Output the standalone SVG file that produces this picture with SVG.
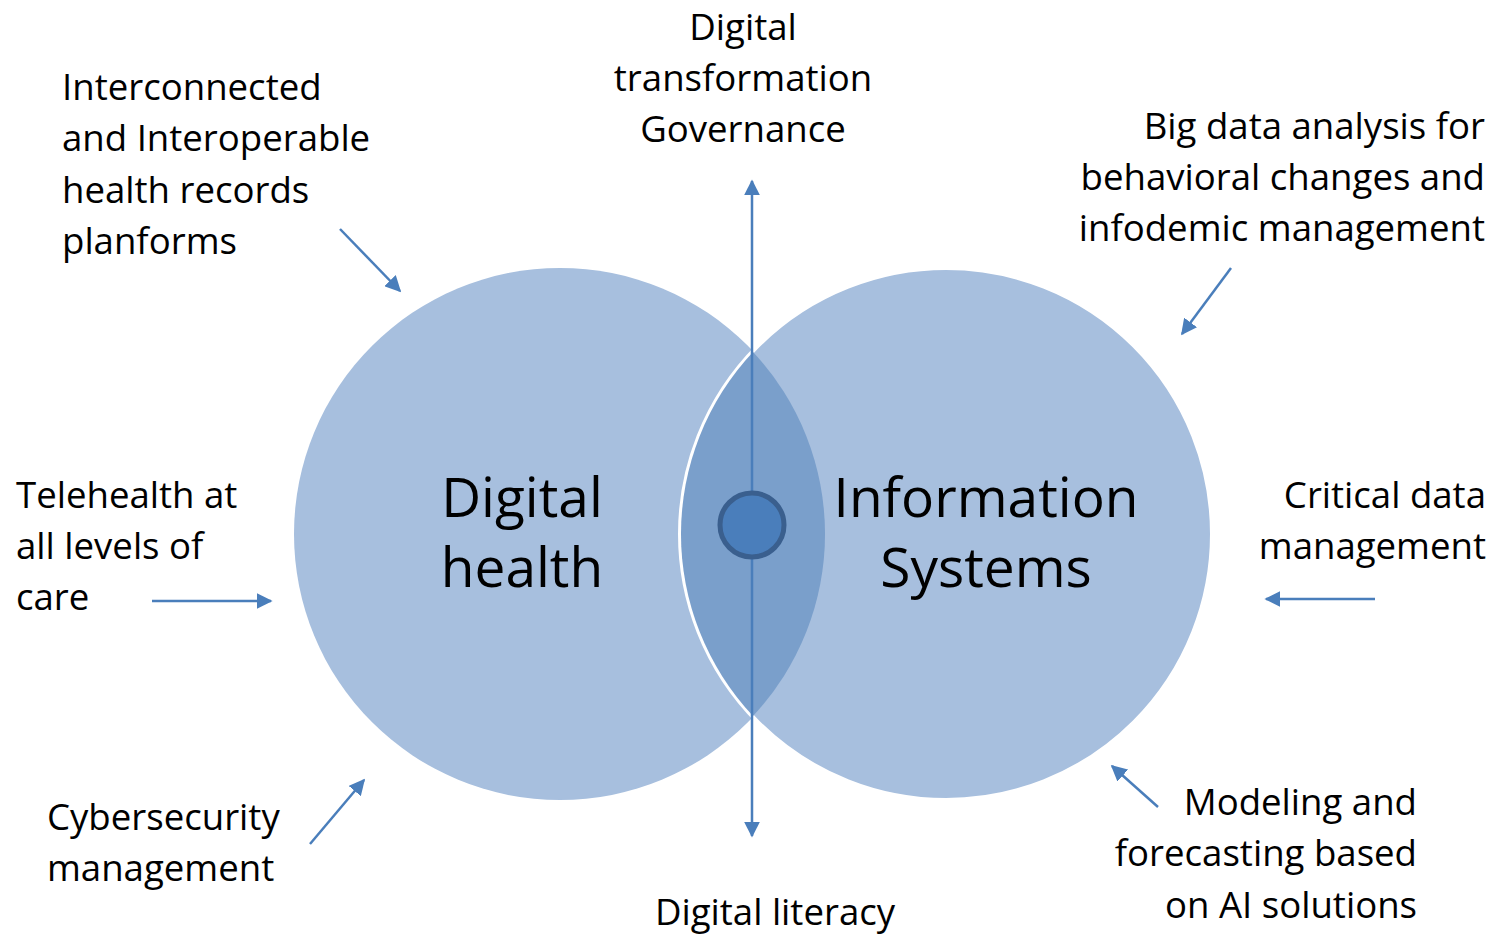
<svg xmlns="http://www.w3.org/2000/svg" width="1494" height="935" viewBox="0 0 1494 935">
<style>
.t{font-family:"Open Sans","Noto Sans",sans-serif;font-size:36.6px;fill:#000}
.big{font-family:"Open Sans","Noto Sans",sans-serif;font-size:55px;fill:#000}
.c{text-anchor:middle}
.r{text-anchor:end}
.arr{stroke:#4A7EBB;stroke-width:2.5;fill:none;marker-end:url(#ah2)}
</style>
<defs>
<marker id="ah2" viewBox="0 0 10 10" refX="9" refY="5" markerWidth="16" markerHeight="16" markerUnits="userSpaceOnUse" orient="auto">
<path d="M0,0 L10,5 L0,10 Z" fill="#4A7EBB"/>
</marker>
</defs>
<rect width="1494" height="935" fill="#fff"/>
<g id="digital-health">
<circle cx="560" cy="534" r="266" fill="#A7BFDE"/>
</g>
<g id="information-systems">
<circle cx="946" cy="534" r="266" fill="#A7BFDE" stroke="#fff" stroke-width="4"/>
</g>
<g id="overlap">
<path d="M753,352 A266,266 0 0 1 753,716 A266,266 0 0 1 753,352 Z" fill="#7A9FCB"/>
</g>
<g id="connectors">
<line x1="752" y1="494" x2="752" y2="181" class="arr"/>
<line x1="752" y1="558" x2="752" y2="836" class="arr"/>
<line x1="340" y1="229" x2="400" y2="291" class="arr"/>
<line x1="1231" y1="268" x2="1182" y2="334" class="arr"/>
<line x1="152" y1="601" x2="271" y2="601" class="arr"/>
<line x1="1375" y1="599" x2="1266" y2="599" class="arr"/>
<line x1="310" y1="844" x2="364" y2="780" class="arr"/>
<line x1="1158" y1="807" x2="1112" y2="766" class="arr"/>
</g>
<g id="center">
<circle cx="752" cy="525" r="32" fill="#4A7EBB" stroke="#3A5F8E" stroke-width="5"/>
</g>
<g id="labels-big">
<text class="big c" x="522" y="517">Digital</text>
<text class="big c" x="522" y="587">health</text>
<text class="big c" x="986" y="517">Information</text>
<text class="big c" x="986" y="587">Systems</text>
</g>
<g id="label-interop">
<text class="t" x="62" y="100">Interconnected</text>
<text class="t" x="62" y="151">and Interoperable</text>
<text class="t" x="62" y="203">health records</text>
<text class="t" x="62" y="254">planforms</text>
</g>
<g id="label-governance">
<text class="t c" x="743" y="40">Digital</text>
<text class="t c" x="743" y="91">transformation</text>
<text class="t c" x="743" y="142">Governance</text>
</g>
<g id="label-bigdata">
<text class="t r" x="1485" y="139">Big data analysis for</text>
<text class="t r" x="1485" y="190">behavioral changes and</text>
<text class="t r" x="1485" y="241">infodemic management</text>
</g>
<g id="label-telehealth">
<text class="t" x="16" y="508">Telehealth at</text>
<text class="t" x="16" y="559">all levels of</text>
<text class="t" x="16" y="610">care</text>
</g>
<g id="label-critical">
<text class="t r" x="1486" y="508">Critical data</text>
<text class="t r" x="1486" y="559">management</text>
</g>
<g id="label-cyber">
<text class="t" x="47" y="830">Cybersecurity</text>
<text class="t" x="47" y="881">management</text>
</g>
<g id="label-modeling">
<text class="t r" x="1417" y="815">Modeling and</text>
<text class="t r" x="1417" y="866">forecasting based</text>
<text class="t r" x="1417" y="918">on AI solutions</text>
</g>
<g id="label-literacy">
<text class="t c" x="775" y="925">Digital literacy</text>
</g>
</svg>
